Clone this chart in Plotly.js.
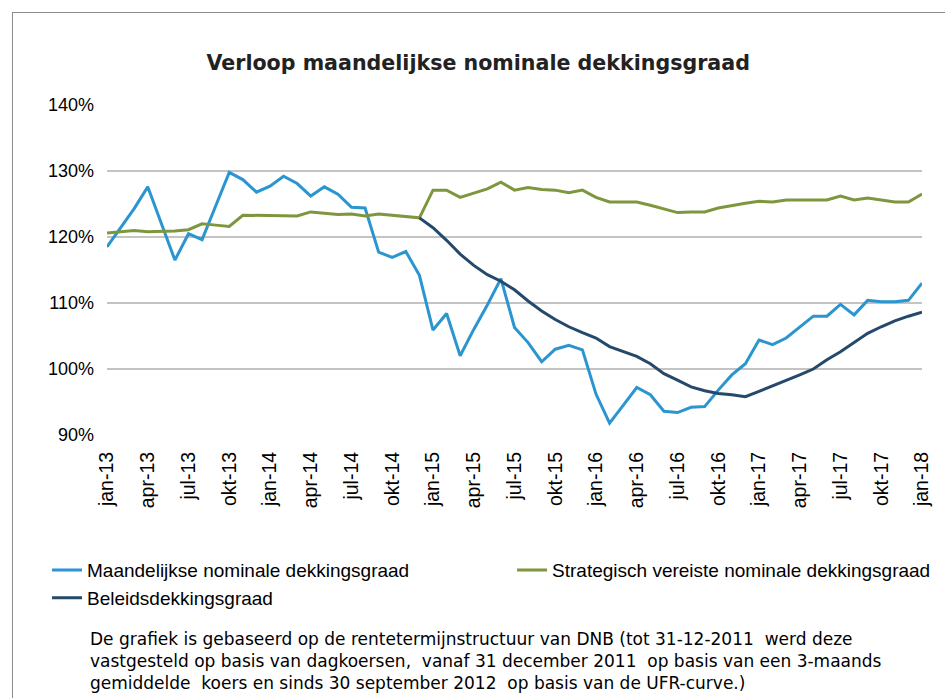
<!DOCTYPE html>
<html>
<head>
<meta charset="utf-8">
<script src="https://cdn.plot.ly/plotly-3.0.1.min.js"></script>
<style>
  html, body { margin: 0; padding: 0; background: #fff; }
  #wrap { position: relative; width: 945px; height: 698px; overflow: hidden; }
  #chart { width: 945px; height: 698px; }
  #frame { position: absolute; left: 12px; top: 12px; width: 960px; height: 720px;
           border: 1.5px solid #8c8c8c; pointer-events: none; box-sizing: border-box; }
</style>
</head>
<body>
<div id="wrap">
  <div id="chart"></div>
  <div id="frame"></div>
</div>
<script>
// Months jan-13 .. jan-18 (61 monthly points)
const months = ['jan','feb','mrt','apr','mei','jun','jul','aug','sep','okt','nov','dec'];
const categories = [];
for (let y = 13; y <= 18; y++) {
  for (let m = 0; m < 12; m++) {
    if (y === 18 && m > 0) break;
    categories.push(months[m] + '-' + y);
  }
}
const tickLabels = ['jan-13','apr-13','jul-13','okt-13','jan-14','apr-14','jul-14','okt-14',
  'jan-15','apr-15','jul-15','okt-15','jan-16','apr-16','jul-16','okt-16',
  'jan-17','apr-17','jul-17','okt-17','jan-18'];

const maandelijkse = [118.5,121.4,124.3,127.6,122.0,116.5,120.5,119.6,124.7,129.8,
  128.7,126.8,127.7,129.2,128.1,126.2,127.6,126.5,124.5,124.4,
  117.7,116.9,117.8,114.2,105.9,108.4,102.0,106.0,109.7,113.7,
  106.3,104.0,101.1,103.0,103.6,102.9,96.2,91.8,94.5,97.2,
  96.1,93.6,93.4,94.2,94.3,96.8,99.1,100.8,104.4,103.7,
  104.7,106.3,108.0,108.0,109.8,108.2,110.4,110.2,110.2,110.4,113.0];

const strategisch = [120.6,120.8,121.0,120.8,120.8,120.9,121.1,122.0,121.8,121.6,
  123.3,123.3,123.3,123.3,123.2,123.8,123.6,123.4,123.5,123.2,
  123.5,123.3,123.0,122.9,127.1,127.1,126.0,126.7,127.3,128.3,
  127.1,127.5,127.2,127.1,126.7,127.1,126.0,125.3,125.3,125.3,
  124.8,124.2,123.7,123.8,123.8,124.4,124.8,125.1,125.4,125.3,
  125.6,125.6,125.6,125.6,126.2,125.6,125.9,125.6,125.3,125.3,126.5];

// Beleidsdekkingsgraad starts dec-14 (index 23)
const beleids = [null,null,null,null,null,null,null,null,null,null,
  null,null,null,null,null,null,null,null,null,null,
  null,null,null,122.9,121.4,119.5,117.4,115.7,114.3,113.3,
  112.0,110.3,108.8,107.5,106.4,105.5,104.7,103.4,102.6,101.9,
  100.8,99.3,98.3,97.3,96.7,96.3,96.1,95.8,96.6,97.4,
  98.3,99.1,100.0,101.4,102.6,104.0,105.4,106.4,107.3,108.0,108.6];

const yTicks = [90,100,110,120,130,140];

const xIdx = categories.map((_, i) => i);
const tickVals = tickLabels.map(t => categories.indexOf(t));

const axisFont = {family: 'Liberation Sans, Arial, sans-serif', size: 18, color: '#000'};
const xTickFont = {family: 'Liberation Sans, Arial, sans-serif', size: 19.5, color: '#000'};
const legendFont = {family: 'Liberation Sans, Arial, sans-serif', size: 19, color: '#000'};

const traces = [
  {x: xIdx, y: maandelijkse, name: 'Maandelijkse nominale dekkingsgraad', type: 'scatter', mode: 'lines',
   line: {color: '#2b95cf', width: 3}, legend: 'legend'},
  {x: xIdx, y: strategisch, name: 'Strategisch vereiste nominale dekkingsgraad', type: 'scatter', mode: 'lines',
   line: {color: '#7e963d', width: 3}, legend: 'legend2'},
  {x: xIdx, y: beleids, name: 'Beleidsdekkingsgraad', type: 'scatter', mode: 'lines',
   line: {color: '#24496b', width: 3}, legend: 'legend'}
];

const layout = {
  width: 945, height: 698,
  margin: {l: 107, r: 23, t: 105, b: 263, autoexpand: false},
  paper_bgcolor: '#fff', plot_bgcolor: '#fff',
  title: {text: 'Verloop maandelijkse nominale dekkingsgraad',
          font: {family: 'DejaVu Sans, sans-serif', size: 20.6, color: '#222', weight: 'bold'},
          xref: 'container', yref: 'container', x: 0.506, xanchor: 'center', y: 0.91, yanchor: 'middle'},
  xaxis: {range: [0, 60], tickvals: tickVals, ticktext: tickLabels, tickangle: -90,
          showgrid: false, zeroline: false, showline: false, ticks: '', ticklabelstandoff: 12,
          tickfont: xTickFont, fixedrange: true},
  yaxis: {range: [90, 140], tickvals: yTicks, ticktext: yTicks.map(v => v + '%'),
          showgrid: true, gridcolor: '#c4c4c4', gridwidth: 2, zeroline: false, showline: false,
          ticks: '', ticklabelstandoff: 12, tickfont: axisFont, fixedrange: true},
  showlegend: true,
  legend: {orientation: 'v', x: -0.0736, xanchor: 'left', y: -0.352, yanchor: 'top',
           font: legendFont, bgcolor: 'rgba(0,0,0,0)', traceorder: 'normal'},
  legend2: {orientation: 'v', x: 0.497, xanchor: 'left', y: -0.352, yanchor: 'top',
           font: legendFont, bgcolor: 'rgba(0,0,0,0)'},
  annotations: [{
    xref: 'paper', yref: 'paper', x: -0.023, xanchor: 'left', y: -0.582, yanchor: 'top',
    align: 'left', showarrow: false,
    font: {family: 'DejaVu Sans, sans-serif', size: 17, color: '#000'},
    text: 'De grafiek is gebaseerd op de rentetermijnstructuur van DNB (tot 31-12-2011  werd deze<br>' +
          'vastgesteld op basis van dagkoersen,  vanaf 31 december 2011  op basis van een 3-maands<br>' +
          'gemiddelde  koers en sinds 30 september 2012  op basis van de UFR-curve.)'
  }]
};

Plotly.newPlot('chart', traces, layout, {displayModeBar: false, staticPlot: true});
</script>
</body>
</html>
